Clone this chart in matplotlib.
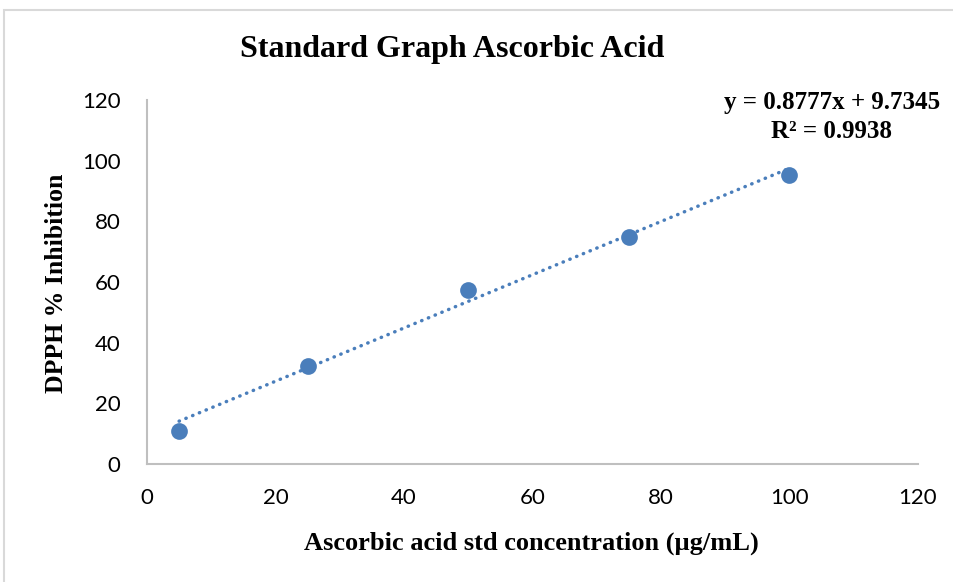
import numpy as np
import matplotlib.pyplot as plt
from matplotlib.patches import Rectangle

# Ascorbic acid standard (DPPH assay)
conc = [5, 25, 50, 75, 100]
inhibition = [11.0, 32.4, 57.4, 74.9, 95.4]

# Excel trendline as printed on the chart
slope = 0.8777
intercept = 9.7345
r2 = 0.9938

x_ticks = [0, 20, 40, 60, 80, 100, 120]
y_ticks = [0, 20, 40, 60, 80, 100, 120]

serif = "Liberation Serif"
tick_font = "Lato"
blue = "#4a7ebb"

fig = plt.figure(figsize=(9.54, 5.82), dpi=100)
ax = fig.add_axes([147 / 954, 118 / 582, 771 / 954, 364 / 582])

# light chart-area border like Excel
fig.patches.append(Rectangle((4 / 954, -0.02), 1.0, 1 - 10 / 582 + 0.02,
                             transform=fig.transFigure, fill=False,
                             edgecolor="#d9d9d9", linewidth=1.5))

# trendline across the data range
xs = np.array([min(conc), max(conc)])
ax.plot(xs, slope * xs + intercept, color=blue, linewidth=2.5,
        linestyle=(0, (0.1, 2.0)), dash_capstyle="round", zorder=2)
ax.scatter(conc, inhibition, s=145, color=blue, zorder=3, linewidths=0)

ax.set_xlim(0, 120)
ax.set_ylim(0, 120)
ax.set_xticks(x_ticks)
ax.set_yticks(y_ticks)
ax.tick_params(length=0, labelsize=16)
ax.tick_params(axis="y", pad=19)
ax.tick_params(axis="x", pad=17)
for lab in ax.get_xticklabels() + ax.get_yticklabels():
    lab.set_fontfamily(tick_font)
for s in ["top", "right"]:
    ax.spines[s].set_visible(False)
for s in ["left", "bottom"]:
    ax.spines[s].set_color("#bfbfbf")
    ax.spines[s].set_linewidth(1.5)

fig.text(452 / 954, 1 - 50 / 582, "Standard Graph Ascorbic Acid",
         ha="center", va="center", fontsize=23, fontweight="bold", family=serif)
fig.text(531 / 954, 1 - 543 / 582, "Ascorbic acid std concentration (µg/mL)",
         ha="center", va="center", fontsize=19, fontweight="bold", family=serif)
fig.text(57 / 954, 1 - 283 / 582, "DPPH % Inhibition", rotation=90,
         ha="center", va="center", fontsize=18.5, fontweight="bold", family=serif)

fig.text(832 / 954, 1 - 117 / 582,
         f"y = {slope}x + {intercept}\nR² = {r2}",
         ha="center", va="center", fontsize=18, fontweight="bold",
         family=serif, linespacing=1.35)

fig.savefig("out.png", dpi=100)
